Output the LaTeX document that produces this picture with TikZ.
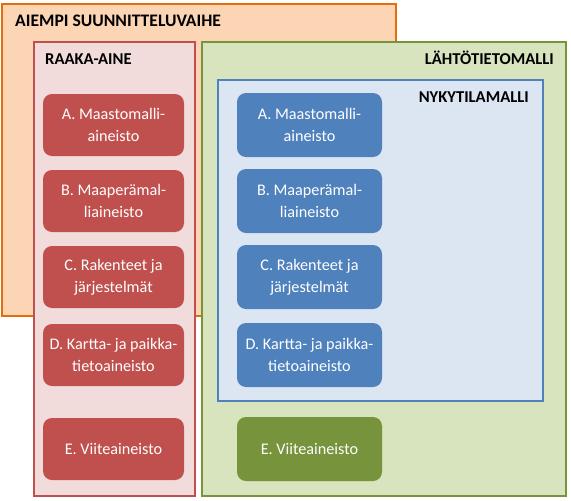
\documentclass[tikz,border=0pt]{standalone}
\usepackage{fontspec}
\setmainfont{Carlito}
\definecolor{orS}{HTML}{E46C0A}
\definecolor{orF}{HTML}{FCD5B5}
\definecolor{rdS}{HTML}{C0504D}
\definecolor{rdF}{HTML}{F2DCDB}
\definecolor{gnS}{HTML}{77933C}
\definecolor{gnF}{HTML}{D7E4BD}
\definecolor{blS}{HTML}{4F81BD}
\definecolor{blF}{HTML}{DCE6F2}
\tikzset{
  container/.style={line width=2.5pt, anchor=north west, inner sep=0pt, outer sep=0pt},
  hdr/.style={inner sep=0pt, font=\fontsize{16.6}{19}\selectfont\bfseries, text=black},
  item/.style={rounded corners=9pt, text=white, align=center, inner sep=0pt,
    font=\fontsize{16.2}{22}\selectfont},
  ritem/.style={item, fill=rdS, minimum width=141pt, minimum height=62pt},
  bitem/.style={item, fill=blS, minimum width=145pt, minimum height=64pt},
  gitem/.style={item, fill=gnS, minimum width=145pt, minimum height=64pt},
}
\begin{document}
\begin{tikzpicture}[x=1pt,y=-1pt]
\useasboundingbox (0,0) rectangle (571,501);
\node[container, draw=orS, fill=orF, minimum width=394pt, minimum height=312pt] (aiempi) at (2,4) {};
\node[container, draw=rdS, fill=rdF, minimum width=161pt, minimum height=454pt] (raaka) at (34,42) {};
\node[container, draw=gnS, fill=gnF, minimum width=364pt, minimum height=454pt] (lahto) at (202,42) {};
\node[container, draw=blS, fill=blF, minimum width=325pt, minimum height=321pt] (nyky) at (218,80) {};

\node[hdr, anchor=base west] (taiempi) at (15,26) {\fontsize{17.6}{19}\selectfont AIEMPI SUUNNITTELUVAIHE};
\node[hdr, anchor=base west] (traaka) at (45,64) {RAAKA-AINE};
\node[hdr, anchor=base east] (tlahto) at (554,64) {LÄHTÖTIETOMALLI};
\node[hdr, anchor=base east] (tnyky) at (529,102) {NYKYTILAMALLI};

\node[ritem] (ra) at (113.5,125) {A. Maastomalli-\\aineisto};
\node[ritem] (rb) at (113.5,201) {B. Maaperämal-\\liaineisto};
\node[ritem] (rc) at (113.5,277) {C. Rakenteet ja\\järjestelmät};
\node[ritem] (rd) at (113.5,355) {D. Kartta- ja paikka-\\tietoaineisto};
\node[ritem] (re) at (113.5,449) {E. Viiteaineisto};

\node[bitem] (ba) at (309.5,125) {A. Maastomalli-\\aineisto};
\node[bitem] (bb) at (309.5,201) {B. Maaperämal-\\liaineisto};
\node[bitem] (bc) at (309.5,277) {C. Rakenteet ja\\järjestelmät};
\node[bitem] (bd) at (309.5,355) {D. Kartta- ja paikka-\\tietoaineisto};
\node[gitem] (ge) at (309.5,449) {E. Viiteaineisto};
\end{tikzpicture}
\end{document}
